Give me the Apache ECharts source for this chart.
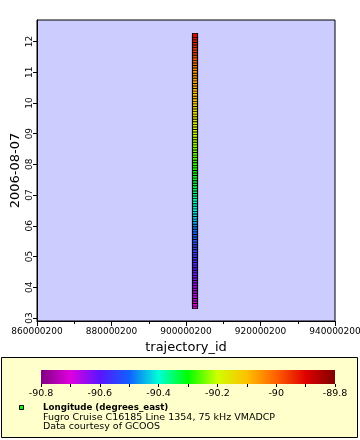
<!DOCTYPE html>
<html>
<head>
<meta charset="utf-8">
<script src="https://cdn.jsdelivr.net/npm/echarts@6/dist/echarts.min.js"></script>
<style>
html,body{margin:0;padding:0;background:#fff;}
#c{width:360px;height:440px;}
</style>
</head>
<body>
<div id="c"></div>
<script>
// ---- data ----
const trajectoryId = 902416300;
const times = [
 "03:22","03:27","03:32","03:37","03:42","03:47","03:52","03:57",
 "04:02","04:07","04:12","04:17","04:22","04:27","04:32","04:37","04:42","04:47","04:52","04:57",
 "05:02","05:07","05:12","05:17","05:22","05:27","05:32","05:37","05:42","05:47","05:52","05:57",
 "06:02","06:07","06:12","06:17","06:22","06:27","06:32","06:37","06:42","06:47","06:52","06:57",
 "07:02","07:07","07:12","07:17","07:22","07:27","07:32","07:37","07:42","07:47","07:52","07:57",
 "08:02","08:07","08:12","08:17","08:22","08:27","08:32","08:37","08:42","08:47","08:52","08:57",
 "09:02","09:07","09:12","09:17","09:22","09:27","09:32","09:37","09:42","09:47","09:52","09:57",
 "10:02","10:07","10:12","10:17","10:22","10:27","10:32","10:37","10:42","10:47","10:52","10:57",
 "11:02","11:07","11:12","11:17","11:22","11:27","11:32","11:37","11:42","11:47","11:52","11:57",
 "12:02","12:07","12:12"
];
const longitude = [
 -90.705,-90.698,-90.690,-90.683,-90.676,-90.670,-90.662,-90.655,
 -90.648,-90.641,-90.633,-90.626,-90.618,-90.611,-90.603,-90.595,-90.588,-90.581,-90.574,-90.566,
 -90.559,-90.551,-90.545,-90.539,-90.532,-90.526,-90.520,-90.513,-90.507,-90.501,-90.492,-90.481,
 -90.469,-90.457,-90.445,-90.433,-90.425,-90.419,-90.412,-90.405,-90.398,-90.390,-90.382,-90.373,
 -90.365,-90.356,-90.347,-90.340,-90.333,-90.326,-90.319,-90.312,-90.305,-90.298,-90.291,-90.284,
 -90.277,-90.270,-90.263,-90.257,-90.250,-90.244,-90.238,-90.232,-90.225,-90.219,-90.212,-90.206,
 -90.200,-90.193,-90.186,-90.179,-90.172,-90.165,-90.158,-90.151,-90.145,-90.139,-90.133,-90.127,
 -90.121,-90.115,-90.109,-90.103,-90.098,-90.092,-90.087,-90.081,-90.076,-90.070,-90.064,-90.059,
 -90.053,-90.044,-90.031,-90.017,-90.003,-89.989,-89.977,-89.968,-89.959,-89.950,-89.941,-89.932,
 -89.923,-89.914,-89.905
];
const xTickMin = 860000200, xTickMax = 940000200, xTickStep = 20000000;
const hourTicks = [3,4,5,6,7,8,9,10,11,12];
const yMinHour = 2.9, yMaxHour = 12.7;
const cbMin = -90.8, cbMax = -89.8, cbStep = 0.1;
const paletteColors = ['#800080','#e000e0','#5a14ff','#1060ff','#00ffd8','#00ff00','#d0ff00','#ffc000','#ff6000','#e00000','#800000'];
const dateLabel = "2006-08-07";
const legendTitle = "Longitude (degrees_east)";
const legendLines = ["Fugro Cruise C16185 Line 1354, 75 kHz VMADCP", "Data courtesy of GCOOS"];

// ---- build ----
function toHour(s){ const p = s.split(':'); return +p[0] + (+p[1])/60; }
const points = times.map((t,i)=>[trajectoryId, toHour(t), longitude[i]]);
const pad2 = v => (v<10?'0':'') + v;
const FONT = 'DejaVu Sans';

const chart = echarts.init(document.getElementById('c'), null, {renderer:'canvas'});
const stops = paletteColors.map((c,i)=>({offset:i/(paletteColors.length-1), color:c}));

chart.setOption({
  animation:false,
  backgroundColor:'#ffffff',
  textStyle:{fontFamily:FONT},
  grid:[
    {left:37, top:20, width:298, height:301, show:true, backgroundColor:'#ccccff', borderColor:'#000', borderWidth:1, containLabel:false, outerBoundsMode:'none'},
    {left:41, top:370, width:294, height:14, show:false, containLabel:false, outerBoundsMode:'none'}
  ],
  xAxis:[
    {gridIndex:0, type:'value', min:xTickMin, max:xTickMax, interval:xTickStep,
     name:'trajectory_id', nameLocation:'middle', nameGap:20, nameMoveOverlap:false,
     nameTextStyle:{fontSize:13, color:'#000', fontFamily:FONT},
     axisLine:{show:true, onZero:false, lineStyle:{color:'#000', width:1}},
     axisTick:{show:true, length:5, lineStyle:{color:'#000'}},
     minorTick:{show:true, splitNumber:2, length:3, lineStyle:{color:'#000'}},
     splitLine:{show:false},
     axisLabel:{fontSize:9, color:'#000', margin:6, fontFamily:FONT, formatter:v=>String(v), showMinLabel:true, showMaxLabel:true, hideOverlap:false}
    },
    {gridIndex:1, type:'value', min:cbMin, max:cbMax, interval:cbStep,
     axisLine:{show:false},
     axisTick:{show:true, length:3, lineStyle:{color:'#000'}},
     splitLine:{show:false},
     axisLabel:{fontSize:9.5, color:'#000', margin:5, fontFamily:FONT, hideOverlap:false,
       formatter:v=>{ const k=Math.round(v*10); return (k%2===0)? String(+(+v).toFixed(1)) : ''; }}
    }
  ],
  yAxis:[
    {gridIndex:0, type:'value', min:yMinHour, max:yMaxHour,
     name:dateLabel, nameLocation:'middle', nameGap:15, nameMoveOverlap:false,
     nameTextStyle:{fontSize:13, color:'#000', fontFamily:FONT},
     axisLine:{show:true, onZero:false, lineStyle:{color:'#000', width:1}},
     axisTick:{show:true, length:4, customValues:hourTicks, lineStyle:{color:'#000'}},
     splitLine:{show:false},
     axisLabel:{rotate:90, fontSize:9, color:'#000', margin:3, fontFamily:FONT, customValues:hourTicks,
       formatter:v=>pad2(Math.round(v))}
    },
    {gridIndex:1, type:'value', show:false, min:0, max:1}
  ],
  visualMap:{type:'continuous', show:false, min:cbMin, max:cbMax, dimension:2, seriesIndex:0,
    inRange:{color:paletteColors}},
  series:[
    {type:'scatter', xAxisIndex:0, yAxisIndex:0, data:points, symbol:'rect', symbolSize:[5,4],
     itemStyle:{borderColor:'#000', borderWidth:1, opacity:1}, emphasis:{disabled:true}, silent:true}
  ],
  graphic:[
    {type:'rect', z:-10, silent:true, shape:{x:1.5, y:357.5, width:356, height:80},
     style:{fill:'#ffffcc', stroke:'#000', lineWidth:1}},
    {type:'rect', z:5, silent:true, shape:{x:41, y:370, width:294, height:14},
     style:{fill:new echarts.graphic.LinearGradient(0,0,1,0,stops)}},
    {type:'rect', z:5, silent:true, shape:{x:19.5, y:405.5, width:4, height:4},
     style:{fill:'#00ff00', stroke:'#000', lineWidth:1}},
    {type:'text', z:5, silent:true, x:43, y:408,
     style:{text:legendTitle, font:'bold 8.7px "DejaVu Sans"', fill:'#000', verticalAlign:'middle'}},
    {type:'text', z:5, silent:true, x:43, y:417.7,
     style:{text:legendLines[0], font:'9.5px "DejaVu Sans"', fill:'#000', verticalAlign:'middle'}},
    {type:'text', z:5, silent:true, x:43, y:427,
     style:{text:legendLines[1], font:'9.5px "DejaVu Sans"', fill:'#000', verticalAlign:'middle'}}
  ]
});
</script>
</body>
</html>
